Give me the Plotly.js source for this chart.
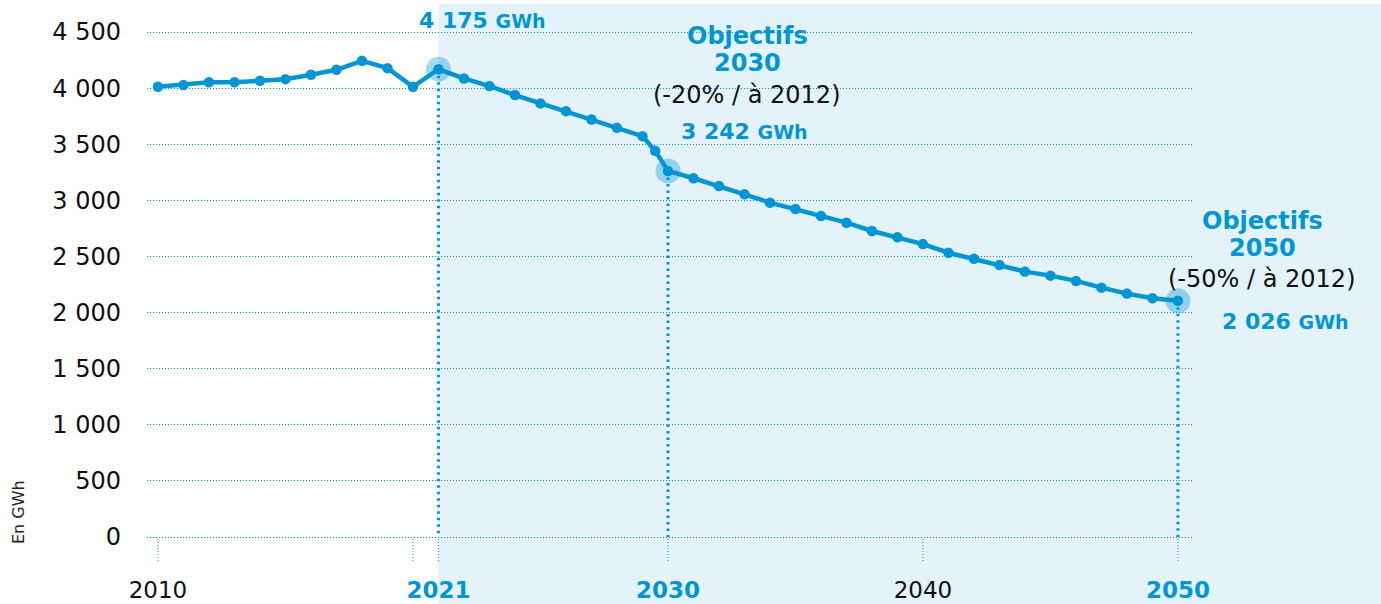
<!DOCTYPE html>
<html>
<head>
<meta charset="utf-8">
<script src="https://cdn.plot.ly/plotly-3.0.1.min.js"></script>
<style>
html,body{margin:0;padding:0;background:#ffffff;}
#chart{width:1381px;height:604px;}
</style>
</head>
<body>
<div id="chart"></div>
<script>
// ---------- data ----------
const years = [2010, 2011, 2012, 2013, 2014, 2015, 2016, 2017, 2018, 2019, 2020,
  2021, 2022, 2023, 2024, 2025, 2026, 2027, 2028, 2029, 2029.5,
  2030, 2031, 2032, 2033, 2034, 2035, 2036, 2037, 2038, 2039, 2040,
  2041, 2042, 2043, 2044, 2045, 2046, 2047, 2048, 2049, 2050];
const consumptionGWh = [4012, 4027, 4052, 4052, 4065, 4080, 4119, 4163, 4243, 4178, 4012,
  4168, 4086, 4018, 3938, 3864, 3795, 3721, 3646, 3572, 3441,
  3262, 3197, 3128, 3054, 2979, 2923, 2861, 2801, 2727, 2670, 2610,
  2533, 2480, 2424, 2365, 2329, 2282, 2222, 2169, 2128, 2105];
const highlightYears = [2021, 2030, 2050];
const highlightLabels = ['4 175', '3 242', '2 026'];
const objectiveYears = ['2030', '2050'];
const objectiveNotes = ['(-20% / à 2012)', '(-50% / à 2012)'];
const yTickVals = [0, 500, 1000, 1500, 2000, 2500, 3000, 3500, 4000, 4500];
const yTickText = ['0', '500', '1 000', '1 500', '2 000', '2 500', '3 000', '3 500', '4 000', '4 500'];
const xTickVals = [2010, 2021, 2030, 2040, 2050];
const xTickText = ['2010', '2021', '2030', '2040', '2050'];
const xTickBold = [false, true, true, false, true];
const tickMarkYears = [2010, 2020, 2021, 2030, 2040, 2050];
const unitLabel = 'GWh';
const yTitle = 'En GWh';
const objectiveWord = 'Objectifs';

// ---------- style / geometry ----------
const BLUE = '#0096d6';
const W = 1381, H = 604;
const ml = 147, mr = 187, mt = 5, mb = 64;
const pw = W - ml - mr, ph = H - mt - mb;
const xr = [2009.57, 2050.63];
const yr = [-26.7, 4740.7];
const FONT = 'DejaVu Sans';

const px2paper = p => (p - ml) / pw;
const py2paper = p => (mt + ph - p) / ph;
const x2paper = x => (x - xr[0]) / (xr[1] - xr[0]);

const hlValues = highlightYears.map(y => consumptionGWh[years.indexOf(y)]);

const traces = [
  {
    x: highlightYears, y: hlValues, type: 'scatter', mode: 'markers',
    marker: {size: 25, color: 'rgba(0,150,214,0.35)'},
    hoverinfo: 'skip', showlegend: false
  },
  {
    x: years, y: consumptionGWh, type: 'scatter', mode: 'lines+markers',
    line: {color: BLUE, width: 4.5},
    marker: {size: 10.5, color: BLUE},
    showlegend: false
  }
];

const shapes = [];
// shaded projection zone
shapes.push({
  type: 'rect', xref: 'paper', yref: 'paper',
  x0: x2paper(2021), x1: (W - ml) / pw,
  y0: py2paper(H), y1: py2paper(4),
  fillcolor: '#e4f2f9', line: {width: 0}, layer: 'below'
});
// thin dotted tick marks below axis
tickMarkYears.forEach(yv => {
  shapes.push({
    type: 'line', xref: 'x', yref: 'paper',
    x0: yv, x1: yv, y0: py2paper(539), y1: py2paper(562),
    line: {color: BLUE, width: 1, dash: '1px,2px'}, layer: 'between'
  });
});
// thick dotted guide lines from highlighted points
highlightYears.forEach((yv, i) => {
  shapes.push({
    type: 'line', xref: 'x', yref: 'y',
    x0: yv, x1: yv, y0: hlValues[i], y1: 0,
    line: {color: BLUE, width: 3, dash: '2.5px,4px'}, layer: 'between'
  });
});

const ann = (px, py, text, size, color, extra) => Object.assign({
  xref: 'paper', yref: 'paper', x: px2paper(px), y: py2paper(py), text: text,
  showarrow: false, xanchor: 'center', yanchor: 'middle',
  font: {family: FONT, size: size, color: color}
}, extra || {});

const valueText = v => '<b>' + v + ' <span style="font-size:19px">' + unitLabel + '</span></b>';

const annotations = [
  ann(482, 20, valueText(highlightLabels[0]), 22, BLUE),
  ann(747, 36, '<b>' + objectiveWord + '</b>', 24, BLUE),
  ann(747, 63, '<b>' + objectiveYears[0] + '</b>', 24, BLUE),
  ann(747, 95, objectiveNotes[0], 24, '#111111'),
  ann(744, 131, valueText(highlightLabels[1]), 22, BLUE),
  ann(1262, 221, '<b>' + objectiveWord + '</b>', 24, BLUE),
  ann(1262, 248, '<b>' + objectiveYears[1] + '</b>', 24, BLUE),
  ann(1262, 279, objectiveNotes[1], 24, '#111111'),
  ann(1285, 321, valueText(highlightLabels[2]), 22, BLUE),
  ann(18, 512, yTitle, 16, '#222222', {textangle: -90})
];

const layout = {
  width: W, height: H,
  margin: {l: ml, r: mr, t: mt, b: mb, pad: 0},
  paper_bgcolor: '#ffffff', plot_bgcolor: 'rgba(0,0,0,0)',
  showlegend: false,
  xaxis: {
    range: xr, showgrid: false, zeroline: false, showline: false, ticks: '',
    tickmode: 'array', tickvals: xTickVals,
    ticktext: xTickText.map((t, i) => xTickBold[i] ? '<span style="color:' + BLUE + '"><b>' + t + '</b></span>' : t),
    tickfont: {family: FONT, size: 23, color: '#111111'},
    ticklabelstandoff: 34, fixedrange: true
  },
  yaxis: {
    range: yr, showgrid: true, gridcolor: BLUE, gridwidth: 1, griddash: '1px,2px',
    zeroline: false, showline: false, ticks: '',
    tickmode: 'array', tickvals: yTickVals, ticktext: yTickText,
    tickfont: {family: FONT, size: 24, color: '#111111'},
    ticklabelstandoff: 25, fixedrange: true
  },
  shapes: shapes,
  annotations: annotations
};

Plotly.newPlot('chart', traces, layout, {displayModeBar: false, staticPlot: true});
</script>
</body>
</html>
